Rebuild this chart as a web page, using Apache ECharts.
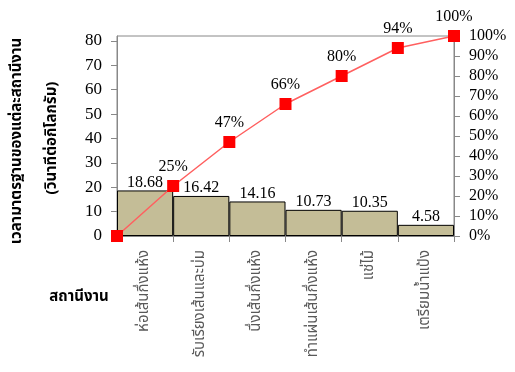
<!DOCTYPE html>
<html>
<head>
<meta charset="utf-8">
<script src="https://cdn.jsdelivr.net/npm/echarts@6/dist/echarts.min.js"></script>
<style>
  html, body { margin: 0; padding: 0; background: #fff; }
  #chart { width: 515px; height: 372px; }
</style>
</head>
<body>
<div id="chart"></div>
<script>
// Stations and their standard time (seconds per kilogram)
const stations = ['ห่อเส้นกึ่งแห้ง', 'รับเรียงเส้นและบ่ม', 'นึ่งเส้นกึ่งแห้ง', 'ทำแผ่นเส้นกึ่งแห้ง', 'แช่ไม้', 'เตรียมน้ำแป้ง'];
const stdTime = [18.68, 16.42, 14.16, 10.73, 10.35, 4.58];
// Cumulative share at each station boundary (percent)
const cumulativePct = [0, 25, 47, 66, 80, 94, 100];
const boundaries = ['', '', '', '', '', '', ''];

const serif = '"Liberation Serif", "Times New Roman", serif';
const thai = '"Noto Sans Thai", "Loma", "Garuda", "Tahoma", sans-serif';
const axisGray = '#888888';

const chart = echarts.init(document.getElementById('chart'));
chart.setOption({
  animation: false,
  grid: { left: 117, right: 61, top: 36, bottom: 136, show: true, borderColor: axisGray, borderWidth: 1 },
  xAxis: [
    {
      type: 'category',
      data: stations,
      axisLine: { lineStyle: { color: axisGray } },
      axisTick: { show: true, lineStyle: { color: axisGray }, length: 6 },
      axisLabel: { rotate: 90, color: '#595959', fontFamily: thai, fontSize: 15, margin: 14, interval: 0 }
    },
    {
      type: 'category',
      data: boundaries,
      boundaryGap: false,
      show: false,
      position: 'bottom'
    }
  ],
  yAxis: [
    {
      type: 'value',
      min: 0,
      max: 82,
      interval: 10,
      splitLine: { show: false },
      axisLine: { show: true, lineStyle: { color: axisGray } },
      axisTick: { show: true, lineStyle: { color: axisGray }, length: 6 },
      axisLabel: { showMaxLabel: false, color: '#000', fontFamily: serif, fontSize: 17, margin: 15 }
    },
    {
      type: 'value',
      min: 0,
      max: 100,
      interval: 10,
      position: 'right',
      splitLine: { show: false },
      axisLine: { show: true, lineStyle: { color: axisGray } },
      axisTick: { show: true, lineStyle: { color: axisGray }, length: 6 },
      axisLabel: { formatter: '{value}%', color: '#000', fontFamily: serif, fontSize: 16, margin: 15 }
    }
  ],
  series: [
    {
      type: 'bar',
      data: stdTime,
      xAxisIndex: 0,
      yAxisIndex: 0,
      barCategoryGap: '0%',
      itemStyle: { color: '#C4BD97', borderColor: '#000', borderWidth: 1 },
      label: {
        show: true, position: 'top', distance: 0,
        color: '#000', fontFamily: serif, fontSize: 16,
        formatter: p => p.value.toFixed(2)
      }
    },
    {
      type: 'line',
      data: cumulativePct,
      xAxisIndex: 1,
      yAxisIndex: 1,
      symbol: 'rect',
      symbolSize: 12,
      lineStyle: { color: '#FF5F5F', width: 1.5 },
      itemStyle: { color: '#FF0000' },
      label: {
        show: true, position: 'top', distance: 5,
        color: '#000', fontFamily: serif, fontSize: 16,
        formatter: p => (p.dataIndex === 0 ? '' : p.value + '%')
      }
    }
  ],
  graphic: [
    {
      type: 'text', x: 18, y: 141, rotation: Math.PI / 2,
      style: { text: 'เวลามาตรฐานของแต่ละสถานีงาน', font: 'bold 15px ' + thai, fill: '#000', align: 'center', verticalAlign: 'middle' }
    },
    {
      type: 'text', x: 53, y: 138, rotation: Math.PI / 2,
      style: { text: '(วินาทีต่อกิโลกรัม)', font: 'bold 15px ' + thai, fill: '#000', align: 'center', verticalAlign: 'middle' }
    },
    {
      type: 'text', x: 79, y: 298,
      style: { text: 'สถานีงาน', font: 'bold 15px ' + thai, fill: '#000', align: 'center', verticalAlign: 'middle' }
    }
  ]
});
</script>
</body>
</html>
